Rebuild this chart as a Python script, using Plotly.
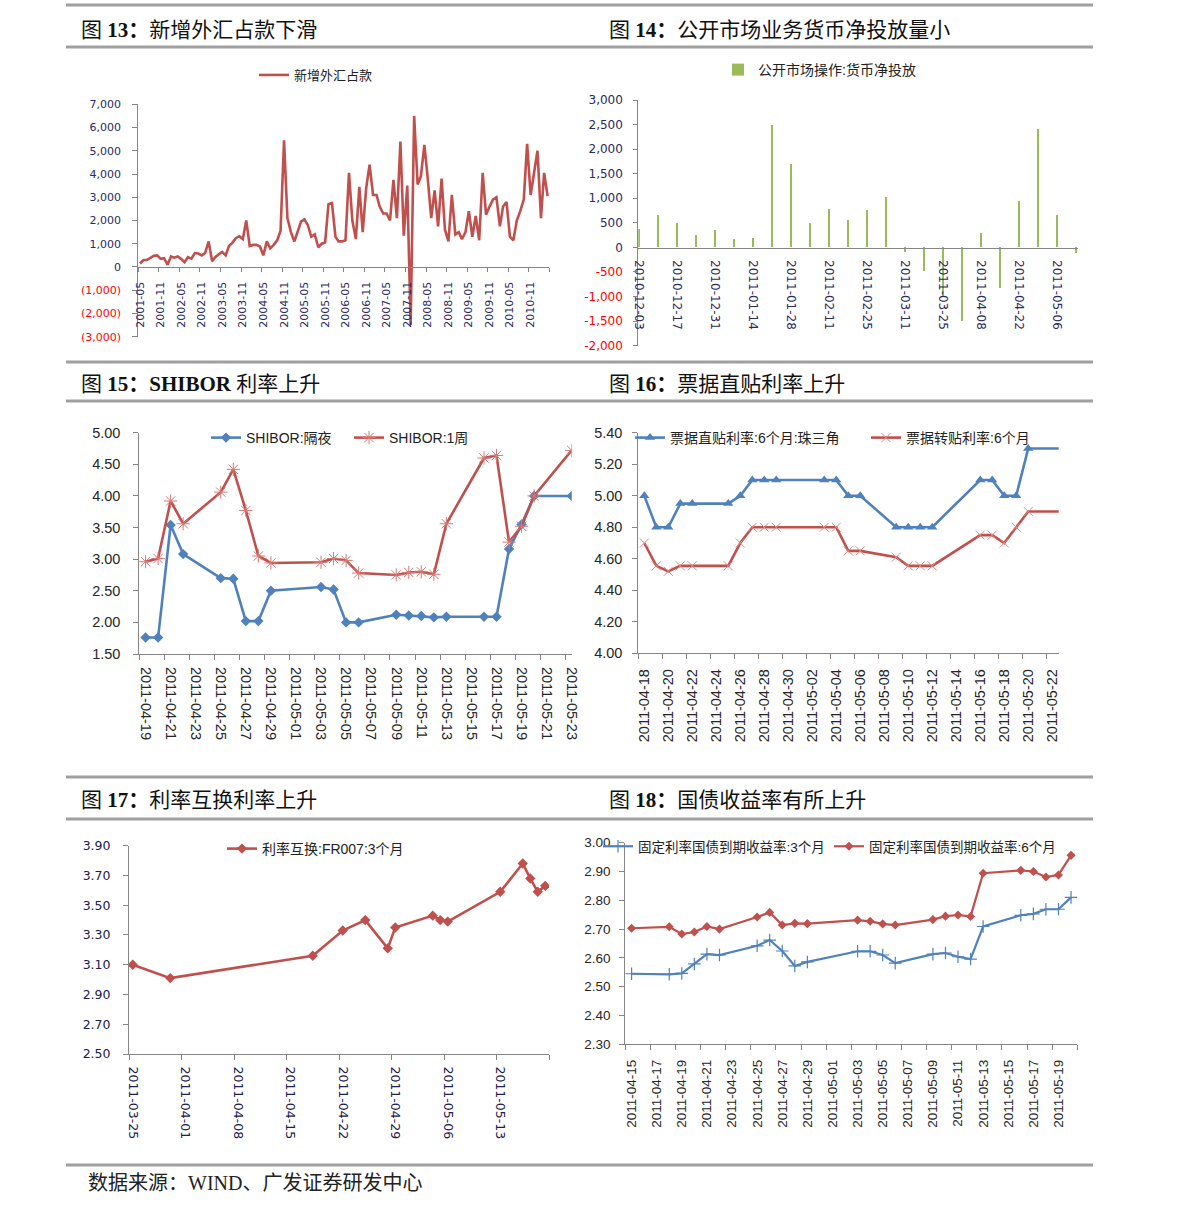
import plotly.graph_objects as go
import pandas as pd

W, H = 1191, 1215
DAY = 86400000


def fxp(p):
    return p / W


def fyp(p):
    return 1 - p / H


# ---------------- data ----------------
# Fig 13: 新增外汇占款 (monthly, 2001-05 .. 2011-04)
fx_months = pd.date_range('2001-05-01', periods=120, freq='MS').strftime('%Y-%m-%d').tolist()
fx_values = [150, 300, 300, 380, 480, 500, 350, 380, 100, 450,
             400, 450, 350, 200, 420, 360, 600, 580, 500, 600,
             1100, 250, 420, 550, 650, 500, 900, 1050, 1250, 1320,
             1200, 2000, 900, 950, 950, 880, 500, 1100, 800, 950,
             1150, 1550, 5450, 2100, 1500, 1100, 1500, 1950, 2050, 1800,
             1300, 1400, 850, 1000, 1050, 2700, 2750, 1300, 1100, 1100,
             1150, 4050, 2000, 1200, 3450, 1500, 3400, 4400, 3100, 3100,
             2600, 2300, 2300, 2000, 3750, 2100, 5400, 1350, 3500, -2500,
             6500, 3550, 3900, 5250, 3800, 2100, 3300, 1750, 3800, 1600,
             1100, 3100, 1400, 1500, 1200, 1500, 2400, 1300, 2200, 1150,
             4050, 2250, 2600, 2900, 3000, 1750, 2600, 2800, 1300, 1150,
             2000, 2400, 2900, 5300, 3100, 4000, 5000, 2100, 4050, 3050]
fx_ytick_vals = [-3000, -2000, -1000, 0, 1000, 2000, 3000, 4000, 5000, 6000, 7000]
fx_ytick_text = ['(3,000)', '(2,000)', '(1,000)', '0', '1,000', '2,000', '3,000',
                 '4,000', '5,000', '6,000', '7,000']

# Fig 14: 公开市场操作:货币净投放 (weekly)
omo_dates = ['2010-12-03', '2010-12-10', '2010-12-17', '2010-12-24', '2010-12-31',
             '2011-01-07', '2011-01-14', '2011-01-21', '2011-01-28', '2011-02-04',
             '2011-02-11', '2011-02-18', '2011-02-25', '2011-03-04', '2011-03-11',
             '2011-03-18', '2011-03-25', '2011-04-01', '2011-04-08', '2011-04-15',
             '2011-04-22', '2011-04-29', '2011-05-06', '2011-05-13']
omo_values = [380, 650, 490, 260, 350, 175, 195, 2490, 1695, 490,
              785, 555, 765, 1030, -95, -485, -1000, -1500, 290, -825,
              950, 2400, 665, -120]
omo_ytick_vals = [-2000, -1500, -1000, -500, 0, 500, 1000, 1500, 2000, 2500, 3000]
omo_ytick_text = ['-2,000', '-1,500', '-1,000', '-500', '0', '500', '1,000',
                  '1,500', '2,000', '2,500', '3,000']

# Fig 15: SHIBOR
shibor_dates = ['2011-04-19', '2011-04-20', '2011-04-21', '2011-04-22', '2011-04-25',
                '2011-04-26', '2011-04-27', '2011-04-28', '2011-04-29', '2011-05-03',
                '2011-05-04', '2011-05-05', '2011-05-06', '2011-05-09', '2011-05-10',
                '2011-05-11', '2011-05-12', '2011-05-13', '2011-05-16', '2011-05-17',
                '2011-05-18', '2011-05-19', '2011-05-20', '2011-05-23']
shibor_on = [1.76, 1.76, 3.54, 3.08, 2.70, 2.69, 2.02, 2.02, 2.50, 2.56,
             2.52, 2.00, 2.00, 2.12, 2.11, 2.10, 2.08, 2.09, 2.09, 2.09,
             3.16, 3.55, 4.00, 4.00]
shibor_1w = [2.96, 3.01, 3.92, 3.56, 4.06, 4.42, 3.77, 3.05, 2.94, 2.95,
             3.01, 2.98, 2.78, 2.75, 2.79, 2.80, 2.76, 3.56, 4.60, 4.64,
             3.27, 3.52, 4.00, 4.72]

# Fig 16: 票据利率
bill_dates = ['2011-04-18', '2011-04-19', '2011-04-20', '2011-04-21', '2011-04-22',
              '2011-04-25', '2011-04-26', '2011-04-27', '2011-04-28', '2011-04-29',
              '2011-05-03', '2011-05-04', '2011-05-05', '2011-05-06', '2011-05-09',
              '2011-05-10', '2011-05-11', '2011-05-12', '2011-05-16', '2011-05-17',
              '2011-05-18', '2011-05-19', '2011-05-20', '2011-05-23']
bill_direct = [5.00, 4.80, 4.80, 4.95, 4.95, 4.95, 5.00, 5.10, 5.10, 5.10,
               5.10, 5.10, 5.00, 5.00, 4.80, 4.80, 4.80, 4.80, 5.10, 5.10,
               5.00, 5.00, 5.30, 5.30]
bill_rediscount = [4.70, 4.555, 4.52, 4.555, 4.555, 4.555, 4.70, 4.80, 4.80, 4.80,
                   4.80, 4.80, 4.65, 4.65, 4.61, 4.555, 4.555, 4.555, 4.75, 4.75,
                   4.70, 4.80, 4.90, 4.90]

# Fig 17: 利率互换
irs_dates = ['2011-03-25', '2011-03-30', '2011-04-18', '2011-04-22', '2011-04-25',
             '2011-04-28', '2011-04-29', '2011-05-04', '2011-05-05', '2011-05-06',
             '2011-05-13', '2011-05-16', '2011-05-17', '2011-05-18', '2011-05-19']
irs_fr007_3m = [3.10, 3.01, 3.16, 3.33, 3.40, 3.21, 3.35, 3.43, 3.40, 3.39,
                3.59, 3.78, 3.68, 3.59, 3.63]

# Fig 18: 国债收益率
bond_dates = ['2011-04-15', '2011-04-18', '2011-04-19', '2011-04-20', '2011-04-21',
              '2011-04-22', '2011-04-25', '2011-04-26', '2011-04-27', '2011-04-28',
              '2011-04-29', '2011-05-03', '2011-05-04', '2011-05-05', '2011-05-06',
              '2011-05-09', '2011-05-10', '2011-05-11', '2011-05-12', '2011-05-13',
              '2011-05-16', '2011-05-17', '2011-05-18', '2011-05-19', '2011-05-20']
bond_3m = [2.545, 2.543, 2.546, 2.579, 2.613, 2.610, 2.642, 2.662, 2.624, 2.572,
           2.586, 2.623, 2.623, 2.610, 2.582, 2.613, 2.617, 2.604, 2.596, 2.709,
           2.748, 2.753, 2.769, 2.769, 2.810]
bond_6m = [2.703, 2.708, 2.683, 2.690, 2.709, 2.700, 2.742, 2.758, 2.714, 2.720,
           2.719, 2.731, 2.727, 2.718, 2.714, 2.733, 2.745, 2.749, 2.744, 2.894,
           2.904, 2.900, 2.881, 2.888, 2.956]

panel_titles = ['图 <b>13：</b>新增外汇占款下滑', '图 <b>14：</b>公开市场业务货币净投放量小',
                '图 <b>15：</b><b>SHIBOR</b> 利率上升', '图 <b>16：</b>票据直贴利率上升',
                '图 <b>17：</b>利率互换利率上升', '图 <b>18：</b>国债收益率有所上升']
source_text = '数据来源：WIND、广发证券研发中心'

# ---------------- style ----------------
RED = '#C0504D'
BLUE = '#4F81BD'
GREEN = '#9BBB59'
AXC = '#868686'
NEG = '#FF0000'
NAVY = '#2A2A5E'
CJK = 'Noto Sans CJK SC'
SANS = 'Liberation Sans, ' + CJK
DEJA = 'DejaVu Sans, ' + CJK
SERIF = 'Liberation Serif, ' + CJK


def red_span(t):
    return '<span style="color:%s">%s</span>' % (NEG, t)


fig = go.Figure()

# Fig 13
fig.add_trace(go.Scatter(x=fx_months, y=fx_values, mode='lines', name='新增外汇占款',
                         line=dict(color=RED, width=2.6), xaxis='x', yaxis='y',
                         legend='legend'))
# Fig 14
fig.add_trace(go.Bar(x=omo_dates, y=omo_values, name='公开市场操作:货币净投放',
                     marker=dict(color=GREEN, line=dict(width=0)), width=DAY * 1.0,
                     xaxis='x2', yaxis='y2', legend='legend2'))
# Fig 15
fig.add_trace(go.Scatter(x=shibor_dates, y=shibor_on, mode='lines+markers', name='SHIBOR:隔夜',
                         line=dict(color=BLUE, width=2.6),
                         marker=dict(symbol='diamond', size=8, color=BLUE),
                         xaxis='x3', yaxis='y3', legend='legend3'))
fig.add_trace(go.Scatter(x=shibor_dates, y=shibor_1w, mode='lines+markers', name='SHIBOR:1周',
                         line=dict(color=RED, width=2.6),
                         marker=dict(symbol='asterisk-open', size=11, color='#D77A76',
                                     line=dict(color='#D77A76', width=1)),
                         xaxis='x3', yaxis='y3', legend='legend4'))
# Fig 16
fig.add_trace(go.Scatter(x=bill_dates, y=bill_direct, mode='lines+markers', name='票据直贴利率:6个月:珠三角',
                         line=dict(color=BLUE, width=2.6),
                         marker=dict(symbol='triangle-up', size=9, color=BLUE),
                         xaxis='x4', yaxis='y4', legend='legend5'))
fig.add_trace(go.Scatter(x=bill_dates, y=bill_rediscount, mode='lines+markers', name='票据转贴利率:6个月',
                         line=dict(color=RED, width=2.6),
                         marker=dict(symbol='x-thin-open', size=9, color='#DD8A86',
                                     line=dict(color='#DD8A86', width=1)),
                         xaxis='x4', yaxis='y4', legend='legend6'))
# Fig 17
fig.add_trace(go.Scatter(x=irs_dates, y=irs_fr007_3m, mode='lines+markers', name='利率互换:FR007:3个月',
                         line=dict(color=RED, width=2.6),
                         marker=dict(symbol='diamond', size=8, color=RED),
                         xaxis='x5', yaxis='y5', legend='legend7'))
# Fig 18
fig.add_trace(go.Scatter(x=bond_dates, y=bond_3m, mode='lines+markers', name='固定利率国债到期收益率:3个月',
                         line=dict(color=BLUE, width=2.2),
                         marker=dict(symbol='cross-thin-open', size=9, color=BLUE,
                                     line=dict(color=BLUE, width=1.2)),
                         xaxis='x6', yaxis='y6', legend='legend8'))
fig.add_trace(go.Scatter(x=bond_dates, y=bond_6m, mode='lines+markers', name='固定利率国债到期收益率:6个月',
                         line=dict(color=RED, width=2.2),
                         marker=dict(symbol='diamond', size=7, color=RED),
                         xaxis='x6', yaxis='y6', legend='legend9'))


def ydom(top, bottom):
    return [fyp(bottom), fyp(top)]


def xdom(left, right):
    return [fxp(left), fxp(right)]


base_axis = dict(showline=True, linecolor=AXC, linewidth=1, showgrid=False, zeroline=False,
                 fixedrange=True, automargin=False)

layout = dict(
    width=W, height=H, margin=dict(l=0, r=0, t=0, b=0, pad=0, autoexpand=False),
    paper_bgcolor='white', plot_bgcolor='rgba(0,0,0,0)', showlegend=True,
    font=dict(family=SANS, color='#222222'),
    bargap=0,
)

# ---- axes 13
layout['xaxis'] = dict(base_axis, type='date', domain=xdom(138.3, 549.3), anchor='free',
                       position=fyp(267.3), range=['2001-04-16', '2011-04-16'],
                       tick0='2001-05-01', dtick='M6', tickformat='%Y-%m', tickangle=-90,
                       ticks='outside', ticklen=9, tickcolor='rgba(0,0,0,0)',
                       tickfont=dict(family=DEJA, size=11, color=NAVY),
                       minor=dict(ticks='outside', ticklen=4, tickcolor=AXC,
                                  tick0='2001-04-16', dtick='M6'))
layout['yaxis'] = dict(base_axis, domain=ydom(104.3, 336.7), anchor='x', range=[-3000, 7000],
                       tickvals=fx_ytick_vals,
                       ticktext=[red_span(t) if v < 0 else t for v, t in zip(fx_ytick_vals, fx_ytick_text)],
                       ticks='outside', ticklen=5, tickcolor=AXC, ticklabelstandoff=9,
                       tickfont=dict(family=DEJA, size=11, color=NAVY))
# ---- axes 14
layout['xaxis2'] = dict(base_axis, type='date', domain=xdom(638.3, 1078.3), anchor='free',
                        position=fyp(247.7), range=['2010-12-02 15:00', '2011-05-13 17:00'],
                        tick0='2010-12-03', dtick=14 * DAY, tickformat='%Y-%m-%d', tickangle=90,
                        ticks='outside', ticklen=9, tickcolor='rgba(0,0,0,0)',
                        tickfont=dict(family=DEJA, size=12, color=NAVY))
layout['yaxis2'] = dict(base_axis, domain=ydom(100, 345.7), anchor='x2', range=[-2000, 3000],
                        tickvals=omo_ytick_vals,
                        ticktext=[red_span(t) if v < 0 else t for v, t in zip(omo_ytick_vals, omo_ytick_text)],
                        ticks='outside', ticklen=4, tickcolor=AXC, ticklabelstandoff=8,
                        tickfont=dict(family=DEJA, size=12, color=NAVY))


def date_x(dom, rng, tick0, dtick, minor0, angle, font, anchor):
    return dict(base_axis, type='date', domain=dom, anchor=anchor, range=rng,
                tick0=tick0, dtick=dtick, tickformat='%Y-%m-%d', tickangle=angle,
                ticks='outside', ticklen=9, tickcolor='rgba(0,0,0,0)', tickfont=font,
                minor=dict(ticks='outside', ticklen=5, tickcolor=AXC, tick0=minor0, dtick=dtick))


def num_y(dom, rng, dtick, font, anchor, standoff):
    return dict(base_axis, domain=dom, anchor=anchor, range=rng, dtick=dtick, tick0=rng[0],
                tickformat='.2f', ticks='outside', ticklen=5, tickcolor=AXC,
                ticklabelstandoff=standoff, tickfont=font)


f15 = dict(family=SANS, size=14.5, color='#262626')
layout['xaxis3'] = date_x(xdom(139.3, 571.7), ['2011-04-18 12:00', '2011-05-23 00:00'],
                          '2011-04-19', 2 * DAY, '2011-04-18 12:00', 90, f15, 'y3')
layout['yaxis3'] = num_y(ydom(432.7, 654), [1.5, 5.0], 0.5, f15, 'x3', 10)

layout['xaxis4'] = date_x(xdom(638.3, 1058.7), ['2011-04-17 12:00', '2011-05-22 13:00'],
                          '2011-04-18', 2 * DAY, '2011-04-17 12:00', -90, f15, 'y4')
layout['yaxis4'] = num_y(ydom(432.7, 653.3), [4.0, 5.4], 0.2, f15, 'x4', 7)

f17 = dict(family=DEJA, size=12.5, color='#202050')
layout['xaxis5'] = date_x(xdom(129, 549), ['2011-03-24 12:00', '2011-05-19 12:00'],
                          '2011-03-25', 7 * DAY, '2011-03-24 12:00', 90, f17, 'y5')
layout['yaxis5'] = num_y(ydom(845.7, 1054), [2.5, 3.9], 0.2, f17, 'x5', 10)

f18 = dict(family=SANS, size=13.5, color='#262626')
layout['xaxis6'] = date_x(xdom(625.3, 1077.3), ['2011-04-14 12:00', '2011-05-20 12:00'],
                          '2011-04-15', 2 * DAY, '2011-04-14 12:00', -90, f18, 'y6')
layout['yaxis6'] = num_y(ydom(842.7, 1044.3), [2.3, 3.0], 0.1, f18, 'x6', 6)


# ---- legends (one per entry, positioned by pixel)
def leg(x_item, y_center, size):
    return dict(x=fxp(x_item), y=fyp(y_center), xanchor='left', yanchor='middle',
                orientation='h', bgcolor='rgba(0,0,0,0)', borderwidth=0,
                font=dict(family=SANS, size=size, color='#222222'))


layout['legend'] = leg(254, 75, 13)
layout['legend2'] = leg(718, 70, 14)
layout['legend3'] = leg(206, 438, 14)
layout['legend4'] = leg(349, 438, 14)
layout['legend5'] = leg(630, 438, 14)
layout['legend6'] = leg(866, 438, 14)
layout['legend7'] = leg(222, 849, 14)
layout['legend8'] = leg(598, 846.5, 13.5)
layout['legend9'] = leg(829, 846.5, 13.5)

# ---- rules and headings
shapes = []
for yy in [5, 47, 362, 401, 777, 819, 1165]:
    shapes.append(dict(type='line', xref='paper', yref='paper', x0=fxp(66), x1=fxp(1093),
                       y0=fyp(yy), y1=fyp(yy), line=dict(color='#A0A0A0', width=3)))
layout['shapes'] = shapes

ann = []
title_pos = [(79, 30), (607, 30), (79, 384), (607, 384), (79, 800), (607, 800)]
for t, (xx, yy) in zip(panel_titles, title_pos):
    ann.append(dict(text=t, x=fxp(xx), y=fyp(yy), xref='paper', yref='paper',
                    xanchor='left', yanchor='middle', showarrow=False,
                    font=dict(family=SERIF, size=21, color='#111111')))
ann.append(dict(text=source_text, x=fxp(86), y=fyp(1183), xref='paper', yref='paper',
                xanchor='left', yanchor='middle', showarrow=False,
                font=dict(family=SERIF, size=20, color='#222222')))
layout['annotations'] = ann

fig.update_layout(**layout)

fig.write_html('out.html', config={'displayModeBar': False},
               post_script="document.body.style.margin='0px';")
